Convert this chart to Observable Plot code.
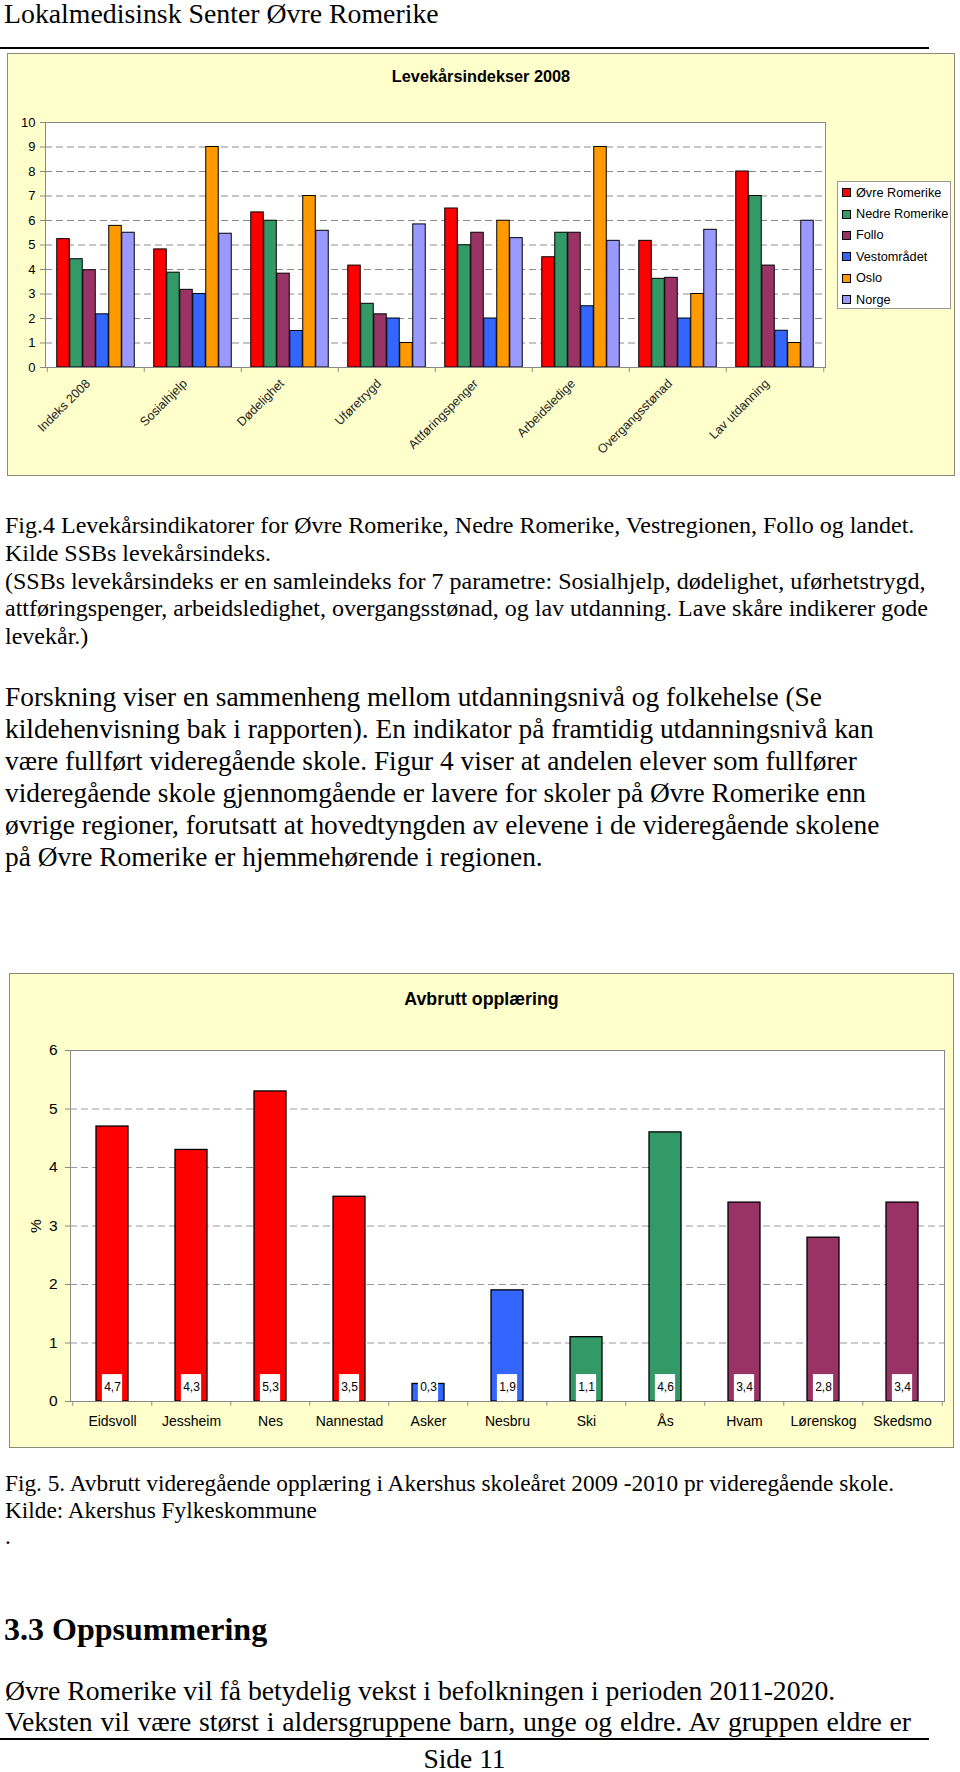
<!DOCTYPE html>
<html><head><meta charset="utf-8">
<script src="https://cdn.jsdelivr.net/npm/d3@7"></script>
<script src="https://cdn.jsdelivr.net/npm/@observablehq/plot@0.6"></script>
<style>
body{margin:0;background:#fff;width:960px;height:1772px;position:relative;overflow:hidden;font-family:"Liberation Serif","Times New Roman",serif;color:#000}
.abs{position:absolute;white-space:nowrap}
.box{position:absolute;background:#FFFFCC;border:1.5px solid #8a8a7a;box-sizing:border-box}
.ctitle{position:absolute;font-family:"Liberation Sans",Arial,sans-serif;font-weight:bold;text-align:center;white-space:nowrap}
.rule{position:absolute;background:#000;height:2px}
#legend{position:absolute;background:#fff;border:1px solid #999;box-sizing:border-box;font-family:"Liberation Sans",Arial,sans-serif;font-size:12.7px}
#legend .row{height:21.4px;display:flex;align-items:center;padding-left:4px;white-space:nowrap}
#legend .sw{width:7px;height:7px;border:1px solid #000;margin-right:5px;flex:none}
svg{position:absolute}
</style></head>
<body>
<div class="abs" id="header" style="left:4px;top:-2px;font-size:27.8px;">Lokalmedisinsk Senter Øvre Romerike</div>
<div class="rule" style="left:0;top:47px;width:929px"></div>

<div class="box" style="left:7px;top:53px;width:948px;height:423px"></div>
<div class="ctitle" style="left:7px;top:67px;width:948px;font-size:16.3px">Levekårsindekser 2008</div>
<div id="chart1"></div>
<div id="legend" style="left:837px;top:181px;width:114px;height:128px"></div>

<div class="abs" style="left:5px;top:512px;font-size:24px;line-height:27.8px">Fig.4 Levekårsindikatorer for Øvre Romerike, Nedre Romerike, Vestregionen, Follo og landet.<br>Kilde SSBs levekårsindeks.<br>(SSBs levekårsindeks er en samleindeks for 7 parametre: Sosialhjelp, dødelighet, uførhetstrygd,<br>attføringspenger, arbeidsledighet, overgangsstønad, og lav utdanning. Lave skåre indikerer gode<br>levekår.)</div>

<div class="abs" style="left:5px;top:681px;font-size:27.4px;line-height:32.1px">Forskning viser en sammenheng mellom utdanningsnivå og folkehelse (Se<br>kildehenvisning bak i rapporten). En indikator på framtidig utdanningsnivå kan<br>være fullført videregående skole. Figur 4 viser at andelen elever som fullfører<br>videregående skole gjennomgående er lavere for skoler på Øvre Romerike enn<br>øvrige regioner, forutsatt at hovedtyngden av elevene i de videregående skolene<br>på Øvre Romerike er hjemmehørende i regionen.</div>

<div class="box" style="left:9px;top:973px;width:945px;height:475px"></div>
<div class="ctitle" style="left:9px;top:989px;width:945px;font-size:17.8px">Avbrutt opplæring</div>
<div id="chart2"></div>

<div class="abs" style="left:5px;top:1470px;font-size:23.3px;line-height:26.5px">Fig. 5. Avbrutt videregående opplæring i Akershus skoleåret 2009 -2010 pr videregående skole.<br>Kilde: Akershus Fylkeskommune<br>.</div>

<div class="abs" style="left:4px;top:1610px;font-size:32px;font-weight:bold;line-height:38px">3.3 Oppsummering</div>

<div class="abs" style="left:5px;top:1676px;font-size:27.7px;line-height:30.5px">Øvre Romerike vil få betydelig vekst i befolkningen i perioden 2011-2020.</div>
<div class="abs" style="left:5px;top:1706.5px;width:906px;font-size:27.7px;line-height:30.5px;text-align:justify;text-align-last:justify;white-space:normal">Veksten vil være størst i aldersgruppene barn, unge og eldre. Av gruppen eldre er</div>
<div class="rule" style="left:0;top:1738px;width:929px"></div>
<div class="abs" style="left:0;top:1743px;width:929px;text-align:center;font-size:27.5px;line-height:32px">Side 11</div>

<script>
// ---------- Chart 1 data ----------
const categories1 = ["Indeks 2008","Sosialhjelp","Dødelighet","Uføretrygd","Attføringspenger","Arbeidsledige","Overgangsstønad","Lav utdanning"];
const series1 = ["Øvre Romerike","Nedre Romerike","Follo","Vestområdet","Oslo","Norge"];
const colors1 = ["#FF0000","#339966","#993366","#3366FF","#FF9900","#9999FF"];
const ovreRomerike = [5.24,4.82,6.33,4.16,6.49,4.5,5.17,8.0];
const nedreRomerike = [4.42,3.87,5.99,2.6,4.99,5.5,3.62,7.0];
const follo        = [3.97,3.17,3.83,2.17,5.5,5.5,3.66,4.16];
const vestomradet  = [2.17,3.0,1.49,2.0,2.0,2.5,2.0,1.5];
const oslo         = [5.78,9.0,7.0,1.0,5.99,9.0,3.0,1.0];
const norge        = [5.5,5.46,5.58,5.84,5.28,5.17,5.62,5.99];
const yTicks1 = [0,1,2,3,4,5,6,7,8,9,10];

// ---------- Chart 2 data ----------
const schools = ["Eidsvoll","Jessheim","Nes","Nannestad","Asker","Nesbru","Ski","Ås","Hvam","Lørenskog","Skedsmo"];
const dropout = [4.7,4.3,5.3,3.5,0.3,1.9,1.1,4.6,3.4,2.8,3.4];
const schoolRegion = ["ovre","ovre","ovre","ovre","vest","vest","follo","follo","nedre","nedre","nedre"];
const regionKeys = ["ovre","vest","follo","nedre"];
const regionColors = ["#FF0000","#3366FF","#339966","#993366"];
const yTicks2 = [0,1,2,3,4,5,6];

const sans = '"Liberation Sans", Arial, sans-serif';

// ---------- Chart 1 ----------
{
  const W = 948, H = 423, mL = 38, mR = 130, mT = 69, mB = 109;
  const bw = (W - mL - mR) / categories1.length;
  const barW = 13;
  const vals = [ovreRomerike, nedreRomerike, follo, vestomradet, oslo, norge];
  const rows = series1.flatMap((s, i) => categories1.map((c, j) => ({category: c, series: s, value: vals[i][j], i})));
  const barMarks = series1.map((s, i) => Plot.barY(rows.filter(d => d.i === i), {
    x: "category", y: "value", fill: "series", stroke: "#000", strokeWidth: 1,
    insetLeft: (bw - barW) / 2, insetRight: (bw - barW) / 2, dx: (i - 2.5) * barW
  }));
  const svg = Plot.plot({
    width: W, height: H, marginLeft: mL, marginRight: mR, marginTop: mT, marginBottom: mB,
    style: {background: "transparent", fontFamily: sans, color: "#000", overflow: "visible"},
    x: {domain: categories1, padding: 0, axis: null},
    y: {domain: [0, 10], axis: null},
    color: {domain: series1, range: colors1},
    marks: [
      Plot.frame({fill: "#fff", stroke: "#888"}),
      Plot.ruleY([1,2,3,4,5,6,7,8,9], {stroke: "#8c8c8c", strokeDasharray: "7,4"}),
      ...barMarks,
      Plot.ruleY([0], {stroke: "#888"}),
      Plot.ruleX(categories1, {x: d => d, y1: 0, y2: -0.2, dx: -bw / 2, stroke: "#888"}),
      Plot.ruleX([categories1[categories1.length - 1]], {x: d => d, y1: 0, y2: -0.2, dx: bw / 2, stroke: "#888"}),
      Plot.axisY({ticks: yTicks1, tickSize: 5, tickPadding: 5, fontSize: 13, stroke: "#888", label: null}),
      Plot.axisX({tickSize: 0, tickPadding: 14, dx: -8, tickRotate: -45, fontSize: 12.5, fill: "#222", label: null})
    ]
  });
  svg.style.left = "7px"; svg.style.top = "53px";
  document.body.appendChild(svg);

  const leg = document.getElementById("legend");
  series1.forEach((s, i) => {
    const r = document.createElement("div"); r.className = "row";
    const sw = document.createElement("div"); sw.className = "sw"; sw.style.background = colors1[i];
    const t = document.createElement("span"); t.textContent = s;
    r.appendChild(sw); r.appendChild(t); leg.appendChild(r);
  });
}

// ---------- Chart 2 ----------
{
  const W = 945, H = 475, mL = 61, mR = 10, mT = 77, mB = 47;
  const bw = (W - mL - mR) / schools.length;
  const rows = schools.map((s, i) => ({school: s, value: dropout[i], region: schoolRegion[i], label: dropout[i].toFixed(1).replace(".", ",")}));
  const barWidth = bw * 0.4;
  const boxW = 20;
  const svg = Plot.plot({
    width: W, height: H, marginLeft: mL, marginRight: mR, marginTop: mT, marginBottom: mB,
    style: {background: "transparent", fontFamily: sans, color: "#000", overflow: "visible"},
    x: {domain: schools, paddingInner: 0.6, paddingOuter: 0.3, axis: null},
    y: {domain: [0, 6], axis: null},
    color: {domain: regionKeys, range: regionColors},
    marks: [
      Plot.frame({fill: "#fff", stroke: "#888"}),
      Plot.ruleY([1,2,3,4,5], {stroke: "#999", strokeDasharray: "7,4"}),
      Plot.barY(rows, {x: "school", y: "value", fill: "region", stroke: "#000", strokeWidth: 1.3}),
      Plot.barY(rows, {x: "school", y1: 0, y2: 0.46, fill: "#fff", insetLeft: (barWidth - boxW) / 2, insetRight: (barWidth - boxW) / 2}),
      Plot.text(rows, {x: "school", y: 0.25, text: "label", fontSize: 12, fill: "#000"}),
      Plot.ruleY([0], {stroke: "#888"}),
      Plot.ruleX(schools, {x: d => d, y1: 0, y2: -0.08, dx: -bw / 2, stroke: "#888"}),
      Plot.ruleX([schools[schools.length - 1]], {x: d => d, y1: 0, y2: -0.08, dx: bw / 2, stroke: "#888"}),
      Plot.axisY({ticks: yTicks2, tickFormat: "d", tickSize: 5, tickPadding: 8, fontSize: 15.5, stroke: "#888", label: "%", labelAnchor: "center", labelOffset: 41, labelArrow: "none"}),
      Plot.axisX({tickSize: 0, tickPadding: 15, fontSize: 14, label: null})
    ]
  });
  svg.style.left = "9px"; svg.style.top = "973px";
  document.body.appendChild(svg);
}
</script>
</body></html>
